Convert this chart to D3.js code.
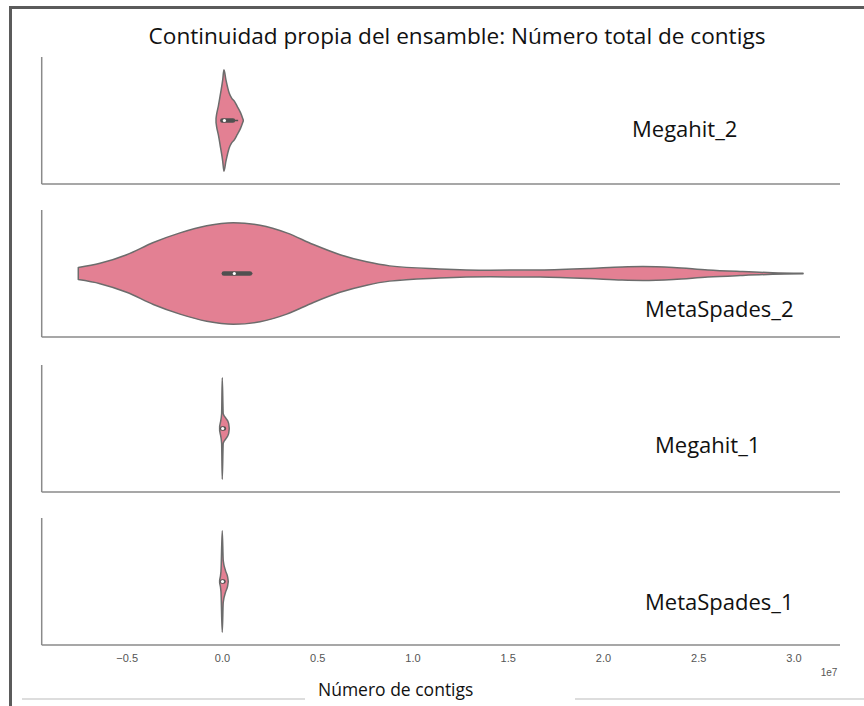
<!DOCTYPE html>
<html>
<head>
<meta charset="utf-8">
<script src="https://cdn.jsdelivr.net/npm/d3@7"></script>
<style>
  body { margin: 0; background: #fff; }
  svg { display: block; }
</style>
</head>
<body>
<svg id="chart" width="864" height="706"></svg>
<script>
// Assemblies, one violin row each (top to bottom)
const assemblies = ["Megahit_2", "MetaSpades_2", "Megahit_1", "MetaSpades_1"];

// Kernel density outlines: [number of contigs, density relative to the row's peak]
const profileMegahit2 = [
  [-0.31e6, 0.04], [-0.28e6, 0.12], [-0.19e6, 0.28], [-0.07e6, 0.54], [0.04e6, 0.80],
  [0.105e6, 1.0], [0.21e6, 0.80], [0.38e6, 0.54], [0.51e6, 0.44], [0.65e6, 0.38],
  [0.80e6, 0.28], [0.98e6, 0.15], [1.12e6, 0.01]
];
const profileMetaSpades2 = [
  [-7.54e6, 0.12], [-6.4e6, 0.20], [-5.0e6, 0.37], [-3.6e6, 0.61], [-2.2e6, 0.80],
  [-0.8e6, 0.94], [0.6e6, 1.0], [2.0e6, 0.95], [3.4e6, 0.80], [4.8e6, 0.57],
  [6.2e6, 0.37], [7.6e6, 0.23], [8.8e6, 0.15], [11.4e6, 0.09], [14.1e6, 0.065],
  [16.7e6, 0.07], [19.3e6, 0.10], [21.0e6, 0.13], [22.1e6, 0.137], [23.7e6, 0.118],
  [25.5e6, 0.07], [27.2e6, 0.04], [28.9e6, 0.016], [30.5e6, 0.006]
];
const profileMegahit1 = [
  [-0.12e6, 0.04], [-0.09e6, 0.10], [-0.016e6, 0.29], [0.016e6, 1.0], [0.068e6, 0.29],
  [0.21e6, 0.20], [0.35e6, 0.10], [0.38e6, 0.01]
];
const profileMetaSpades1 = [
  [-0.12e6, 0.03], [-0.05e6, 0.20], [0.016e6, 1.0], [0.068e6, 0.41], [0.19e6, 0.21],
  [0.30e6, 0.085], [0.33e6, 0.01]
];

// Box summaries: [lower whisker, Q1, median, Q3, upper whisker]
const boxMegahit2 = [0, 0.02e6, 0.13e6, 0.58e6, 0.85e6];
const boxMetaSpades2 = [0, 0.1e6, 0.65e6, 1.47e6, 1.6e6];
const boxMegahit1 = [0, 0.01e6, 0.04e6, 0.1e6, 0.2e6];
const boxMetaSpades1 = [0, 0.01e6, 0.03e6, 0.08e6, 0.16e6];

const profiles = [profileMegahit2, profileMetaSpades2, profileMegahit1, profileMetaSpades1];
const boxes = [boxMegahit2, boxMetaSpades2, boxMegahit1, boxMetaSpades1];

const xTicks = [-0.5e7, 0, 0.5e7, 1.0e7, 1.5e7, 2.0e7, 2.5e7, 3.0e7];
const xDomain = [-0.946e7, 3.244e7];

const titleText = "Continuidad propia del ensamble: Número total de contigs";
const xLabelText = "Número de contigs";
const offsetText = "1e7";

// ---- layout ----
const svg = d3.select("#chart");
const left = 41.7, right = 840;
const rowTops = [57, 210, 365, 518];
const rowH = 127;
const labelPos = [[632, 137], [645, 317], [655, 453], [645, 610]];

const x = d3.scaleLinear().domain(xDomain).range([left, right]);
const halfW = d3.scaleLinear().domain([0, 1]).range([0, rowH * 0.4]);

const fillColor = "#e38093";
const edgeColor = "#6c6c6c";
const spineColor = "#8a8a8a";

// outer frame of the figure
svg.append("line").attr("x1", 10.5).attr("x2", 10.5).attr("y1", 6).attr("y2", 706)
  .attr("stroke", "#5b5b5b").attr("stroke-width", 3);
svg.append("line").attr("x1", 9).attr("x2", 864).attr("y1", 7.5).attr("y2", 7.5)
  .attr("stroke", "#5b5b5b").attr("stroke-width", 3);
svg.append("line").attr("x1", 22).attr("x2", 305).attr("y1", 699).attr("y2", 699)
  .attr("stroke", "#d2d2d2").attr("stroke-width", 1.5);
svg.append("line").attr("x1", 575).attr("x2", 864).attr("y1", 699).attr("y2", 699)
  .attr("stroke", "#d2d2d2").attr("stroke-width", 1.5);

// title
svg.append("text").attr("x", 457).attr("y", 44).attr("text-anchor", "middle")
  .attr("font-family", "'Open Sans', sans-serif").attr("font-size", 22.6)
  .attr("fill", "#111").text(titleText);

assemblies.forEach((name, i) => {
  const top = rowTops[i];
  const cy = top + rowH / 2;
  const g = svg.append("g");

  // spines
  g.append("line").attr("x1", left).attr("x2", left).attr("y1", top).attr("y2", top + rowH)
    .attr("stroke", spineColor).attr("stroke-width", 1.5);
  g.append("line").attr("x1", left).attr("x2", right).attr("y1", top + rowH).attr("y2", top + rowH)
    .attr("stroke", spineColor).attr("stroke-width", 1.5);

  // violin body
  const area = d3.area()
    .x(d => x(d[0]))
    .y0(d => cy + halfW(d[1]))
    .y1(d => cy - halfW(d[1]))
    .curve(d3.curveMonotoneX);
  g.append("path").datum(profiles[i]).attr("d", area)
    .attr("fill", fillColor).attr("stroke", edgeColor).attr("stroke-width", 1.5)
    .attr("stroke-linejoin", "round");

  // inner box
  const b = boxes[i];
  g.append("line").attr("x1", x(b[0])).attr("x2", x(b[4])).attr("y1", cy).attr("y2", cy)
    .attr("stroke", "#505050").attr("stroke-width", 1.5);
  g.append("line").attr("x1", x(b[1])).attr("x2", x(b[3])).attr("y1", cy).attr("y2", cy)
    .attr("stroke", "#505050").attr("stroke-width", 4.5).attr("stroke-linecap", "round");
  g.append("circle").attr("cx", x(b[2])).attr("cy", cy).attr("r", 1.6).attr("fill", "#fff");

  // row label
  g.append("text").attr("x", labelPos[i][0]).attr("y", labelPos[i][1])
    .attr("font-family", "'Open Sans', sans-serif").attr("font-size", 22)
    .attr("fill", "#111").text(name);
});

// shared x axis below the last row
const axis = d3.axisBottom(x).tickValues(xTicks).tickSize(0).tickPadding(9)
  .tickFormat(d => (d / 1e7).toFixed(1).replace("-", "\u2212"));
const axG = svg.append("g").attr("transform", `translate(0,${rowTops[3] + rowH})`).call(axis);
axG.select(".domain").remove();
axG.selectAll("text").attr("font-family", "'Liberation Sans', Arial, sans-serif")
  .attr("font-size", 11).attr("fill", "#555");

svg.append("text").attr("x", 829).attr("y", 676).attr("text-anchor", "middle")
  .attr("font-family", "'Liberation Sans', Arial, sans-serif").attr("font-size", 10)
  .attr("fill", "#555").text(offsetText);

svg.append("text").attr("x", 318).attr("y", 696)
  .attr("font-family", "'Open Sans', sans-serif").attr("font-size", 17.5)
  .attr("fill", "#111").text(xLabelText);
</script>
</body>
</html>
